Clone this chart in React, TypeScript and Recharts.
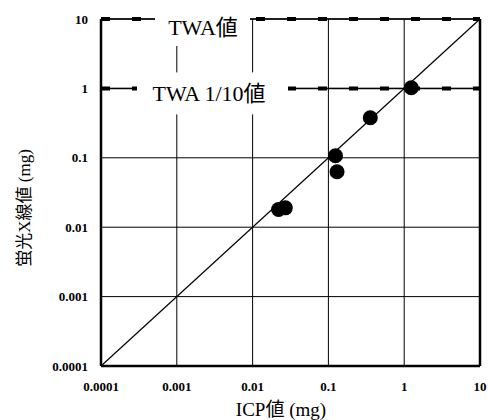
import React from 'react';
import {
  ScatterChart,
  Scatter,
  XAxis,
  YAxis,
  CartesianGrid,
  ReferenceLine,
  Label,
} from 'recharts';

const axisTicks = [0.0001, 0.001, 0.01, 0.1, 1, 10];
const tickLabels = ['0.0001', '0.001', '0.01', '0.1', '1', '10'];
const icpValues = [0.022, 0.027, 0.124, 0.13, 0.357, 1.24];
const xrfValues = [0.018, 0.019, 0.107, 0.063, 0.377, 1.02];
const twaLimit = 10;
const twaTenth = 1;
const diagonal = [
  { x: 0.0001, y: 0.0001 },
  { x: 10, y: 10 },
];

const points = icpValues.map((x, i) => ({ x, y: xrfValues[i] }));

const serif = '"Liberation Serif", "DejaVu Serif", "Noto Sans CJK JP", serif';
const cjk = '"Liberation Serif", "Noto Sans CJK JP", serif';

const fmt = (v: number) => {
  const i = axisTicks.findIndex((t) => Math.abs(t - v) / t < 1e-6);
  return i >= 0 ? tickLabels[i] : String(v);
};

const Dot = (props: any) => {
  const { cx, cy } = props;
  if (cx == null || cy == null) return null;
  return <circle cx={cx} cy={cy} r={7.5} fill="#000" />;
};

const makeBoxLabel =
  (text: string, bx0: number, bx1: number, by0: number, by1: number, tx: number, ty: number) =>
  (props: any) => {
    const vb = props.viewBox || {};
    const x0 = vb.x ?? 0;
    const y0 = vb.y ?? 0;
    return (
      <g>
        <rect x={x0 + bx0} y={y0 + by0} width={bx1 - bx0} height={by1 - by0} fill="#fff" />
        <text
          x={x0 + tx}
          y={y0 + ty}
          textAnchor="middle"
          fontFamily={cjk}
          fontSize={22}
          fill="#000"
        >
          {text}
        </text>
      </g>
    );
  };

const YTitle = () => (
  <text
    x={24}
    y={208}
    transform="rotate(-90 24 208)"
    textAnchor="middle"
    dominantBaseline="central"
    fontFamily={cjk}
    fontSize={17}
    fill="#000"
  >
    蛍光X線値 (mg)
  </text>
);

const XTitle = () => (
  <text x={281} y={416} textAnchor="middle" fontFamily={cjk} fontSize={19} fill="#000">
    ICP値 (mg)
  </text>
);

export default function App() {
  return (
    <div style={{ position: 'absolute', left: 0, top: 0, background: '#fff' }}>
      <ScatterChart width={488} height={420} margin={{ top: 19, right: 8, bottom: 0, left: 0 }}>
        <CartesianGrid stroke="#000" strokeWidth={1} />
        <XAxis
          type="number"
          dataKey="x"
          scale="log"
          domain={[0.0001, 10]}
          ticks={axisTicks}
          tickFormatter={fmt}
          allowDataOverflow
          height={54}
          tickLine={false}
          axisLine={false}
          tickSize={0}
          tickMargin={16}
          interval={0}
          tick={{ fontFamily: serif, fontSize: 13, fontWeight: 'bold', fill: '#000' }}
        >
          <Label content={<XTitle />} />
        </XAxis>
        <YAxis
          type="number"
          dataKey="y"
          scale="log"
          domain={[0.0001, 10]}
          ticks={axisTicks}
          tickFormatter={fmt}
          allowDataOverflow
          width={101}
          tickLine={false}
          axisLine={false}
          tickSize={0}
          tickMargin={13}
          interval={0}
          tick={{ fontFamily: serif, fontSize: 13, fontWeight: 'bold', fill: '#000' }}
        >
          <Label content={<YTitle />} />
        </YAxis>
        <ReferenceLine x={0.0001} stroke="#000" strokeWidth={2.5} />
        <ReferenceLine x={10} stroke="#000" strokeWidth={2.5} />
        <ReferenceLine y={0.0001} stroke="#000" strokeWidth={2.5} />
        <ReferenceLine segment={diagonal} stroke="#000" strokeWidth={1.2} />
        <ReferenceLine y={twaLimit} stroke="#000" strokeWidth={1.5} />
        <ReferenceLine
          y={twaLimit}
          stroke="#000"
          strokeWidth={4}
          strokeDasharray="9 22"
          label={makeBoxLabel('TWA値', 54, 149, -17, 27, 102, 16)}
        />
        <ReferenceLine y={twaTenth} stroke="#000" strokeWidth={1.5} />
        <ReferenceLine
          y={twaTenth}
          stroke="#000"
          strokeWidth={4}
          strokeDasharray="9 22"
          label={makeBoxLabel('TWA 1/10値', 36, 187, -16, 26, 108, 13)}
        />
        <Scatter data={points} shape={<Dot />} isAnimationActive={false} />
      </ScatterChart>
    </div>
  );
}
